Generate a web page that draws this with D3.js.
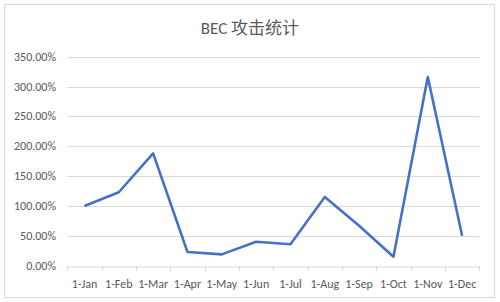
<!DOCTYPE html>
<html>
<head>
<meta charset="utf-8">
<script src="https://cdn.jsdelivr.net/npm/d3@7"></script>
<style>
  body { margin: 0; background: #fff; }
  text { font-family: Calibri, Carlito, "Noto Sans CJK SC", "Open Sans", sans-serif; fill: #595959; }
</style>
</head>
<body>
<div id="wrapper"></div>
<script>
const months = ['1-Jan', '1-Feb', '1-Mar', '1-Apr', '1-May', '1-Jun', '1-Jul', '1-Aug', '1-Sep', '1-Oct', '1-Nov', '1-Dec']
const values = [1.00, 1.23, 1.88, 0.23, 0.19, 0.40, 0.36, 1.15, 0.67, 0.15, 3.16, 0.50]
const yTicks = [0, 0.5, 1, 1.5, 2, 2.5, 3, 3.5]

const width = 500
const height = 302

const svg = d3.select('#wrapper')
    .append('svg')
        .attr('width', width)
        .attr('height', height)

// chart frame
svg.append('rect')
    .attr('x', 4.5)
    .attr('y', 4.5)
    .attr('width', 490)
    .attr('height', 293)
    .attr('fill', '#fff')
    .attr('stroke', '#d9d9d9')

svg.append('text')
    .attr('x', 250)
    .attr('y', 34)
    .attr('text-anchor', 'middle')
    .style('font-size', '17px')
    .text('BEC 攻击统计')

const x = d3.scaleBand()
    .domain(months)
    .range([67.3, 479.3])

const y = d3.scaleLinear()
    .domain([0, 3.5])
    .range([265.7, 56.7])

// gridlines
svg.append('g')
    .selectAll('line')
    .data(yTicks.slice(1))
    .join('line')
        .attr('x1', 67.3)
        .attr('x2', 479.3)
        .attr('y1', d => Math.round(y(d)) + 0.5)
        .attr('y2', d => Math.round(y(d)) + 0.5)
        .attr('stroke', '#d9d9d9')

// y labels
svg.append('g')
    .selectAll('text')
    .data(yTicks)
    .join('text')
        .attr('x', 56)
        .attr('y', d => y(d) + 4)
        .attr('text-anchor', 'end')
        .style('font-size', '12px')
        .text(d => d3.format('.2%')(d))

// x axis
const xAxis = svg.append('g')
    .attr('transform', `translate(0,${Math.round(y(0)) + 0.5})`)
    .call(d3.axisBottom(x).tickSize(0).tickPadding(13))

xAxis.select('.domain').attr('stroke', '#d9d9d9')
xAxis.selectAll('text').style('font-size', '12px').style('font-family', null).attr('fill', '#595959')

svg.append('g')
    .selectAll('line')
    .data(months.concat(['end']))
    .join('line')
        .attr('x1', (d, i) => Math.round(67.3 + i * x.step()) + 0.5)
        .attr('x2', (d, i) => Math.round(67.3 + i * x.step()) + 0.5)
        .attr('y1', Math.round(y(0)))
        .attr('y2', Math.round(y(0)) + 5)
        .attr('stroke', '#d9d9d9')

const line = d3.line()
    .x((d, i) => x(months[i]) + x.bandwidth() / 2)
    .y(d => y(d))

svg.append('path')
    .datum(values)
    .attr('d', line)
    .attr('fill', 'none')
    .attr('stroke', '#4472c4')
    .attr('stroke-width', 2.6)
    .attr('stroke-linejoin', 'round')
</script>
</body>
</html>
